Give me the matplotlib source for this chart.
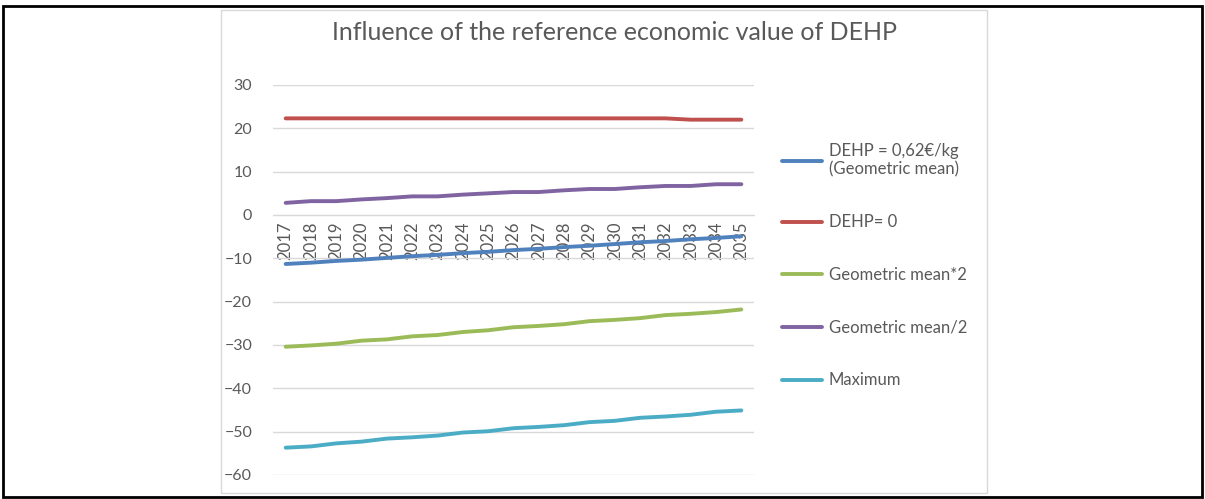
import numpy as np
import matplotlib.pyplot as plt
from matplotlib.patches import Rectangle

years = [str(y) for y in range(2017, 2036)]

dehp_gm = [-11.3, -11.0, -10.6, -10.3, -9.9, -9.5, -9.2, -8.8, -8.5, -8.1,
           -7.8, -7.4, -7.1, -6.7, -6.3, -6.0, -5.6, -5.3, -4.9]
dehp_zero = [22.3, 22.3, 22.3, 22.3, 22.3, 22.3, 22.3, 22.3, 22.3, 22.3,
             22.3, 22.3, 22.3, 22.3, 22.3, 22.3, 22.0, 22.0, 22.0]
gm_x2 = [-30.4, -30.1, -29.7, -29.0, -28.7, -28.0, -27.7, -27.0, -26.6, -25.9,
         -25.6, -25.2, -24.5, -24.2, -23.8, -23.1, -22.8, -22.4, -21.8]
gm_half = [2.8, 3.2, 3.2, 3.6, 3.9, 4.3, 4.3, 4.7, 5.0, 5.3,
           5.3, 5.7, 6.0, 6.0, 6.4, 6.7, 6.7, 7.1, 7.1]
maximum = [-53.7, -53.4, -52.7, -52.3, -51.6, -51.3, -50.9, -50.2, -49.9, -49.2,
           -48.9, -48.5, -47.8, -47.5, -46.8, -46.5, -46.1, -45.4, -45.1]

labels = ['DEHP = 0,62€/kg\n(Geometric mean)', 'DEHP= 0', 'Geometric mean*2',
          'Geometric mean/2', 'Maximum']
colors = ['#4F81BD', '#C0504D', '#9BBB59', '#8064A2', '#4BACC6']

plt.rcParams['font.family'] = ['Lato', 'DejaVu Sans']
txt = '#595959'

fig = plt.figure(figsize=(12.05, 4.99), dpi=100)
W, H = 1205, 499

# outer black frame and chart box
fig.patches.append(Rectangle((3/W, 1-497/H), 1199/W, 491/H, transform=fig.transFigure,
                             fill=False, edgecolor='black', lw=2))
fig.patches.append(Rectangle((221/W, 1-493/H), 766/W, 483/H, transform=fig.transFigure,
                             fill=False, edgecolor='#d9d9d9', lw=1))

ax = fig.add_axes([273/W, 1-475/H, 481/W, 390/H])
x = np.arange(len(years))
series = [dehp_gm, dehp_zero, gm_x2, gm_half, maximum]
for s, lab, c in zip(series, labels, colors):
    ax.plot(x, s, color=c, lw=2.8, label=lab, solid_capstyle='round')

ax.set_xlim(-0.5, len(years) - 0.5)
ax.set_ylim(-60, 30)
ax.set_yticks(range(-60, 31, 10))
ax.yaxis.grid(True, color='#d9d9d9', lw=1)
ax.set_axisbelow(True)
for sp in ['top', 'right', 'left']:
    ax.spines[sp].set_visible(False)
ax.spines['bottom'].set_position(('data', 0))
ax.spines['bottom'].set_color('#d9d9d9')
ax.set_xticks(x)
ax.set_xticklabels(years, rotation=90, fontsize=12, color=txt)
ax.tick_params(axis='x', length=0, pad=5)
ax.tick_params(axis='y', length=0, pad=15, labelsize=11.5, labelcolor=txt)

fig.text(615/W, 1-33/H, 'Influence of the reference economic value of DEHP',
         ha='center', va='center', fontsize=18, color=txt)

leg = ax.legend(loc='upper left', bbox_to_anchor=(782/W, 1-143/H),
                bbox_transform=fig.transFigure, frameon=False, fontsize=12,
                handlelength=2.4, handletextpad=0.4, labelspacing=2.2,
                borderpad=0, borderaxespad=0)
for t in leg.get_texts():
    t.set_color(txt)

fig.savefig('out.png', dpi=100)
